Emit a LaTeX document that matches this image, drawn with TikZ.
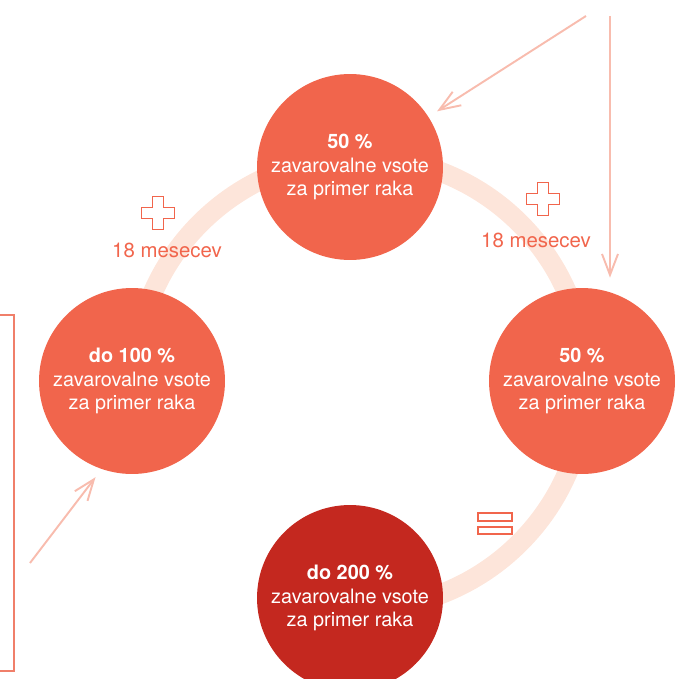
\documentclass[tikz,border=0pt]{standalone}
\usepackage{fontspec}
\setmainfont{TeX Gyre Heros}
\usetikzlibrary{arrows.meta}
\definecolor{coral}{HTML}{F1654C}
\definecolor{darkred}{HTML}{C4281F}
\definecolor{ringpeach}{HTML}{FDE5DA}
\definecolor{pinkline}{HTML}{F8BCAE}
\definecolor{framered}{HTML}{F07F6A}

\begin{document}
\begin{tikzpicture}[
		x=0.02cm, y=-0.02cm,
		share/.style={circle, fill=coral, text=white, minimum size=3.72cm, inner sep=0pt, align=center, font=\fontsize{11.3}{13.6}\selectfont},
		total/.style={share, fill=darkred},
		period/.style={text=coral, inner sep=0pt, font=\fontsize{11.6}{13.6}\selectfont},
		sign/.style={draw=coral, fill=white, line width=0.7pt},
		pointer/.style={draw=pinkline, line width=1.1pt, -{Straight Barb[length=4.2mm,width=3.2mm]}, shorten >=0.2cm},
		plussign/.pic={\path[sign] (-5.5,-16.5) -- (5.5,-16.5) -- (5.5,-5.5) -- (16.5,-5.5) -- (16.5,5.5) -- (5.5,5.5) -- (5.5,16.5) -- (-5.5,16.5) -- (-5.5,5.5) -- (-16.5,5.5) -- (-16.5,-5.5) -- (-5.5,-5.5) -- cycle;}
	]
	\useasboundingbox (0,0) rectangle (690,679);
	\begin{scope}
		\clip (0,0) -- (690,0) -- (690,679) -- (360,679) -- (360,383) -- (0,383) -- cycle;
		\draw[ringpeach, line width=0.4cm] (360,383) circle[radius=4.52cm];
	\end{scope}
	\draw[framered, line width=0.85pt] (0,315) -- (14,315) -- (14,671) -- (0,671);

	\node[share] (top) at (350,167) {\textbf{50 \%}\\zavarovalne vsote\\za primer raka};
	\node[share] (left) at (132,381) {\textbf{do 100 \%}\\zavarovalne vsote\\za primer raka};
	\node[share] (right) at (582,381) {\textbf{50 \%}\\zavarovalne vsote\\za primer raka};
	\node[total] (bottom) at (350,598) {\textbf{do 200 \%}\\zavarovalne vsote\\za primer raka};

	\pic (lplus) at (158,213) {plussign};
	\pic (rplus) at (543,199) {plussign};
	\node[period] (lmonths) at (167,250) {18 mesecev};
	\node[period] (rmonths) at (536,240) {18 mesecev};
	\draw[sign] (478,513) rectangle (512,521);
	\draw[sign] (478,527) rectangle (512,534);

	\coordinate (srcA) at (586,16);
	\coordinate (srcB) at (610,16);
	\coordinate (srcC) at (30,563);
	\draw[pointer] (srcA) -- (top);
	\draw[pointer] (srcB) -- (srcB |- right.north);
	\draw[pointer] (srcC) -- (left.-109);
\end{tikzpicture}
\end{document}
